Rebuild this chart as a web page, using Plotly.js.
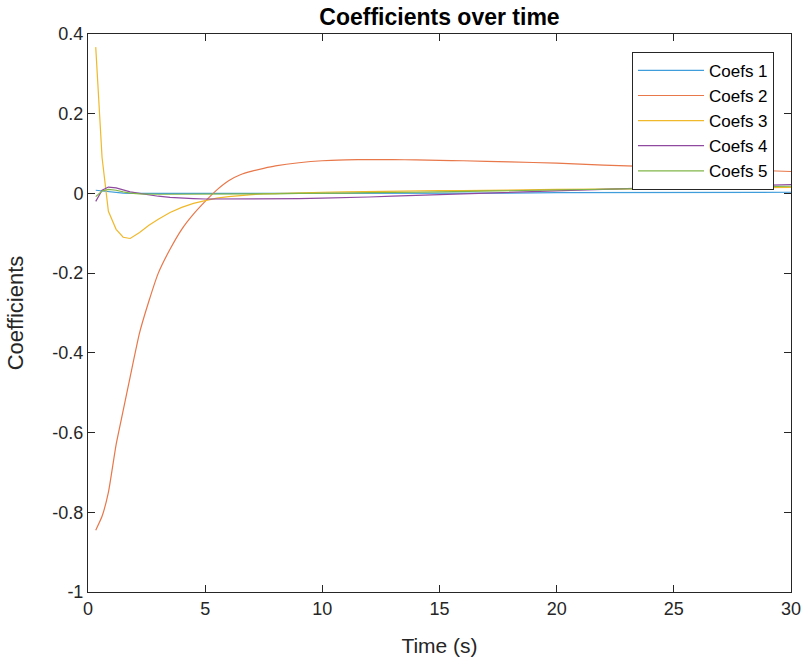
<!DOCTYPE html>
<html>
<head>
<meta charset="utf-8">
<script src="https://cdn.plot.ly/plotly-3.0.1.min.js"></script>
<style>html,body{margin:0;padding:0;background:#fff;}#chart{width:808px;height:664px;}</style>
</head>
<body>
<div id="chart"></div>
<script>
const time = [0.33, 0.6, 0.87, 1.2, 1.5, 1.8, 2.2, 2.6, 3.0, 3.5, 4.0, 4.5, 5.0, 5.5, 6.0, 6.5, 7, 7.5, 8, 9, 10, 11, 12, 13, 14, 15, 16, 18, 20, 22, 24, 26, 28, 30];
const coefs1 = [0.008, 0.006, 0.004, 0.002, 0.001, 0, 0, 0, 0, 0, 0, 0, 0, 0, 0, 0, 0, 0, 0, 0, 0, 0, 0, 0, 0.001, 0.001, 0.001, 0.001, 0.002, 0.002, 0.002, 0.003, 0.003, 0.003];
const coefs2 = [-0.845, -0.81, -0.75, -0.63, -0.545, -0.46, -0.35, -0.27, -0.20, -0.14, -0.09, -0.052, -0.02, 0.009, 0.032, 0.047, 0.056, 0.063, 0.069, 0.077, 0.082, 0.084, 0.085, 0.085, 0.084, 0.083, 0.082, 0.079, 0.076, 0.071, 0.067, 0.063, 0.059, 0.055];
const coefs3 = [0.367, 0.09, -0.045, -0.09, -0.11, -0.113, -0.098, -0.08, -0.065, -0.048, -0.035, -0.025, -0.018, -0.012, -0.008, -0.005, -0.003, -0.001, 0.0, 0.002, 0.003, 0.004, 0.005, 0.006, 0.006, 0.007, 0.007, 0.009, 0.010, 0.011, 0.012, 0.013, 0.014, 0.015];
const coefs4 = [-0.02, 0.008, 0.016, 0.014, 0.009, 0.004, 0.0, -0.004, -0.007, -0.01, -0.012, -0.013, -0.014, -0.014, -0.014, -0.014, -0.014, -0.014, -0.014, -0.013, -0.012, -0.011, -0.009, -0.007, -0.005, -0.003, -0.001, 0.003, 0.007, 0.011, 0.014, 0.017, 0.020, 0.022];
const coefs5 = [-0.008, 0.006, 0.010, 0.008, 0.004, 0.001, -0.001, -0.002, -0.002, -0.002, -0.002, -0.002, -0.002, -0.002, -0.002, -0.002, -0.001, -0.001, -0.001, 0.0, 0.0, 0.001, 0.002, 0.002, 0.003, 0.004, 0.005, 0.006, 0.008, 0.010, 0.012, 0.014, 0.016, 0.018];
const seriesNames = ["Coefs 1", "Coefs 2", "Coefs 3", "Coefs 4", "Coefs 5"];
const seriesColors = ["#3f9ddc", "#e8774a", "#f0b92c", "#8f4aa0", "#80b648"];
const xTickVals = [0, 5, 10, 15, 20, 25, 30];
const yTickVals = [-1, -0.8, -0.6, -0.4, -0.2, 0, 0.2, 0.4];
const yTickText = ["-1", "-0.8", "-0.6", "-0.4", "-0.2", "0", "0.2", "0.4"];

const allSeries = [coefs1, coefs2, coefs3, coefs4, coefs5];
const traces = allSeries.map((ys, i) => ({
  x: time, y: ys, type: "scatter", mode: "lines", name: seriesNames[i],
  line: {color: seriesColors[i], width: 1.2, shape: i === 1 ? "spline" : "linear", smoothing: 0.5}
}));

const FONT = "Liberation Sans, Arial, Helvetica, sans-serif";
const axisCommon = {
  showgrid: false, zeroline: false, showline: true, linecolor: "#262626", linewidth: 1,
  mirror: "ticks", ticks: "inside", ticklen: 7, tickcolor: "#262626",
  tickfont: {family: FONT, size: 18, color: "#262626"}
};

const layout = {
  width: 808, height: 664,
  margin: {l: 88, r: 17, t: 34, b: 72},
  paper_bgcolor: "#fff", plot_bgcolor: "#fff",
  title: {text: "<b>Coefficients over time</b>", x: 0.5, xref: "paper", xanchor: "center", y: 0.974, yanchor: "middle",
          font: {family: FONT, size: 23, color: "#000"}},
  xaxis: Object.assign({}, axisCommon, {range: [0, 30], tickvals: xTickVals,
    title: {text: "Time (s)", standoff: 20, font: {family: FONT, size: 21, color: "#262626"}}}),
  yaxis: Object.assign({}, axisCommon, {range: [-1, 0.4], tickvals: yTickVals, ticktext: yTickText,
    title: {text: "Coefficients", standoff: 22, font: {family: FONT, size: 22, color: "#262626"}}}),
  legend: {x: 0.9758, xanchor: "right", y: 0.968, yanchor: "top", bgcolor: "#fff",
    bordercolor: "#262626", borderwidth: 1, tracegroupgap: 0, itemwidth: 66,
    font: {family: FONT, size: 17, color: "#000"}},
  showlegend: true
};

Plotly.newPlot("chart", traces, layout, {displayModeBar: false, staticPlot: true});
</script>
</body>
</html>
